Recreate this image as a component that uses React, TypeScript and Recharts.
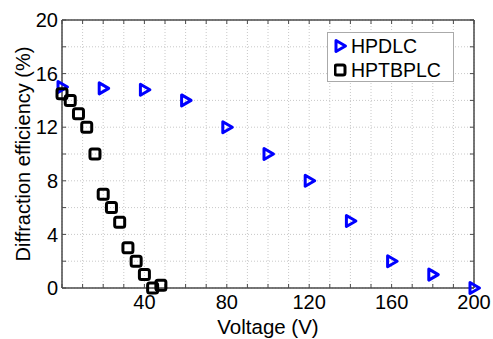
import React from "react";
import {
  ScatterChart,
  Scatter,
  XAxis,
  YAxis,
  CartesianGrid,
  ReferenceLine,
  Legend,
} from "recharts";

const hpdlcVoltage = [0, 20, 40, 60, 80, 100, 120, 140, 160, 180, 200];
const hpdlcEfficiency = [15, 14.9, 14.8, 14, 12, 10, 8, 5, 2, 1, 0];

const hptbplcVoltage = [0, 4, 8, 12, 16, 20, 24, 28, 32, 36, 40, 44, 48];
const hptbplcEfficiency = [14.5, 14, 13, 12, 10, 7, 6, 4.9, 3, 2, 1, 0, 0.2];

const xTicks = [0, 10, 20, 30, 40, 50, 60, 70, 80, 90, 100, 110, 120, 130, 140, 150, 160, 170, 180, 190, 200];
const yTicks = [0, 2, 4, 6, 8, 10, 12, 14, 16, 18, 20];

const FONT = '"Liberation Sans", Arial, sans-serif';
const BLUE = "#0000ff";
const FRAME = "#4a4a4a";

const hpdlc = hpdlcVoltage.map((v, i) => ({ x: v, y: hpdlcEfficiency[i] }));
const hptbplc = hptbplcVoltage.map((v, i) => ({ x: v, y: hptbplcEfficiency[i] }));

const Triangle = (props: any) => {
  const { cx, cy } = props;
  return (
    <path
      d={`M${cx - 4},${cy - 5.5} L${cx + 5.5},${cy} L${cx - 4},${cy + 5.5} Z`}
      fill="none"
      stroke={BLUE}
      strokeWidth={3}
      strokeLinejoin="round"
    />
  );
};

const Square = (props: any) => {
  const { cx, cy } = props;
  return (
    <rect
      x={cx - 5}
      y={cy - 5}
      width={10}
      height={10}
      rx={2}
      fill="none"
      stroke="#000"
      strokeWidth={3}
    />
  );
};

const LegendBox = () => (
  <div
    style={{
      border: "1px solid #aaa",
      background: "#fff",
      width: 127,
      height: 50,
      fontFamily: FONT,
      fontSize: 19.5,
      boxSizing: "border-box",
      padding: "1px 0 0 6px",
      lineHeight: "24px",
    }}
  >
    <div style={{ display: "flex", alignItems: "center" }}>
      <svg width={14} height={16}>
        <Triangle cx={6} cy={8} />
      </svg>
      <span style={{ marginLeft: 3 }}>HPDLC</span>
    </div>
    <div style={{ display: "flex", alignItems: "center" }}>
      <svg width={14} height={16}>
        <Square cx={6} cy={8} />
      </svg>
      <span style={{ marginLeft: 3 }}>HPTBPLC</span>
    </div>
  </div>
);

export default function App() {
  return (
    <div style={{ position: "absolute", left: 0, top: 0, background: "#fff" }}>
      <ScatterChart
        width={493}
        height={339}
        margin={{ top: 20, right: 19, bottom: 0, left: 0 }}
        style={{ fontFamily: FONT }}
      >
        <CartesianGrid stroke="#c8c8c8" strokeDasharray="1 2" />
        <XAxis
          type="number"
          dataKey="x"
          domain={[0, 200]}
          ticks={xTicks}
          interval={0}
          height={51}
          tickLine={false}
          tickSize={5}
          tickMargin={2}
          axisLine={{ stroke: FRAME, strokeWidth: 1.5 }}
          tick={{ fill: "#000", fontSize: 20 }}
          tickFormatter={(v: number) => (v > 0 && v % 40 === 0 ? String(v) : "")}
          label={{ value: "Voltage (V)", position: "insideBottom", offset: 5, fill: "#000", fontSize: 20.5 }}
        />
        <YAxis
          type="number"
          dataKey="y"
          domain={[0, 20]}
          ticks={yTicks}
          interval={0}
          width={62}
          tickLine={false}
          tickSize={4}
          tickMargin={0}
          axisLine={{ stroke: FRAME, strokeWidth: 1.5 }}
          tick={{ fill: "#000", fontSize: 20 }}
          tickFormatter={(v: number) => (v % 4 === 0 ? String(v) : "")}
          label={{
            value: "Diffraction efficiency (%)",
            angle: -90,
            position: "center",
            dx: -8,
            dy: 0,
            fill: "#000",
            fontSize: 20,
          }}
        />
        <ReferenceLine x={200} stroke={FRAME} strokeWidth={1.5} ifOverflow="visible" />
        <ReferenceLine y={20} stroke={FRAME} strokeWidth={1.5} ifOverflow="visible" />
        {xTicks.map((t) => (
          <ReferenceLine
            key={`xb${t}`}
            segment={[{ x: t, y: 0 }, { x: t, y: 0.3 }]}
            stroke={FRAME}
            ifOverflow="visible"
          />
        ))}
        {xTicks.map((t) => (
          <ReferenceLine
            key={`xt${t}`}
            segment={[{ x: t, y: 20 }, { x: t, y: 19.7 }]}
            stroke={FRAME}
            ifOverflow="visible"
          />
        ))}
        {yTicks.map((t) => (
          <ReferenceLine
            key={`yl${t}`}
            segment={[{ x: 0, y: t }, { x: 2, y: t }]}
            stroke={FRAME}
            ifOverflow="visible"
          />
        ))}
        {yTicks.map((t) => (
          <ReferenceLine
            key={`yr${t}`}
            segment={[{ x: 200, y: t }, { x: 198, y: t }]}
            stroke={FRAME}
            ifOverflow="visible"
          />
        ))}
        <Legend
          layout="vertical"
          align="center"
          verticalAlign="middle"
          content={() => <LegendBox />}
          wrapperStyle={{ left: 327, top: 32, width: 127 }}
        />
        <Scatter name="HPDLC" data={hpdlc} fill={BLUE} shape={Triangle} isAnimationActive={false} />
        <Scatter name="HPTBPLC" data={hptbplc} fill="#000" shape={Square} isAnimationActive={false} />
      </ScatterChart>
    </div>
  );
}
